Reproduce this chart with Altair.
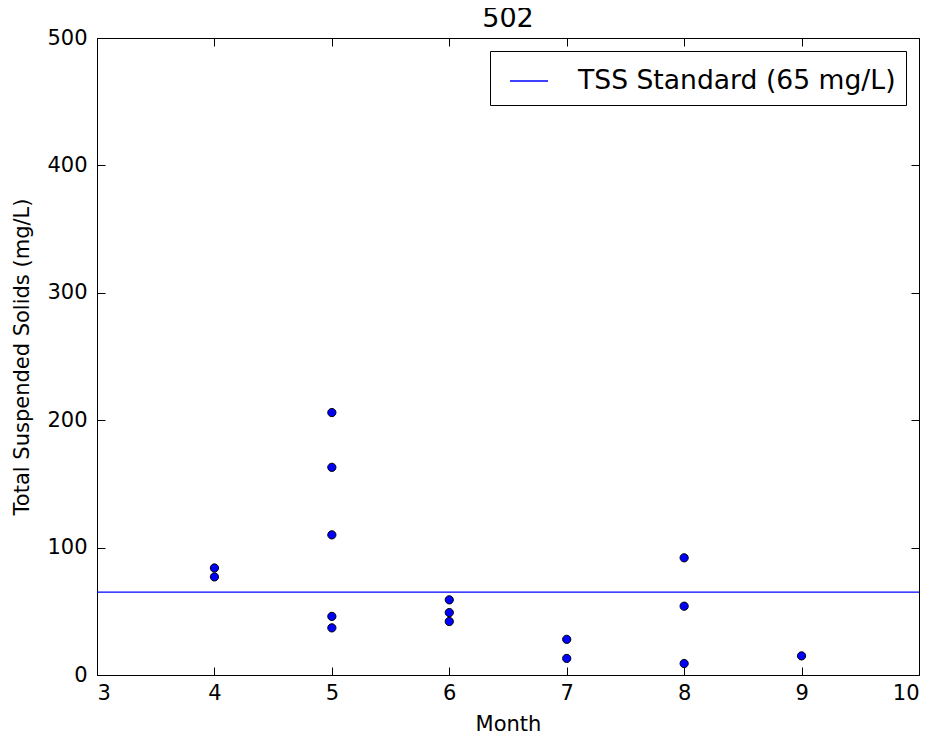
import altair as alt
import pandas as pd

# Data
months = [4, 4, 5, 5, 5, 5, 5, 6, 6, 6, 7, 7, 8, 8, 8, 9]
tss = [84, 77, 206, 163, 110, 46, 37, 59, 49, 42, 28, 13, 92, 54, 9, 15]
standard_label = "TSS Standard (65 mg/L)"
standard_value = 65
x_ticks = [3, 4, 5, 6, 7, 8, 9, 10]
y_ticks = [0, 100, 200, 300, 400, 500]
chart_title = "502"

pts = pd.DataFrame({"Month": months, "TSS": tss})
std = pd.DataFrame({"value": [standard_value], "series": [standard_label]})

W, H = 822, 637
FONT = "DejaVu Sans"
TICK = 8

xscale = alt.Scale(domain=[3, 10], nice=False, zero=False)
yscale = alt.Scale(domain=[0, 500], nice=False)

def tick_axis(orient, offset):
    return alt.Axis(orient=orient, offset=offset, labels=False, title=None,
                    domain=False, grid=False, ticks=True, tickSize=TICK,
                    tickColor="black", tickWidth=1,
                    values=x_ticks if orient in ("top", "bottom") else y_ticks)

points = alt.Chart(pts).mark_circle(
    size=68, color="#0000ff", stroke="black", strokeWidth=1, opacity=1
).encode(
    x=alt.X("Month:Q", scale=xscale,
            axis=alt.Axis(orient="bottom", title="Month", values=x_ticks,
                          ticks=False, domain=False, grid=False,
                          labelPadding=7, titlePadding=10)),
    y=alt.Y("TSS:Q", scale=yscale,
            axis=alt.Axis(orient="left", title="Total Suspended Solids (mg/L)",
                          values=y_ticks, ticks=False, domain=False, grid=False,
                          labelPadding=10, titlePadding=14)),
)

ticks_a = alt.Chart(pts).mark_circle(opacity=0).encode(
    x=alt.X("Month:Q", scale=xscale, axis=tick_axis("top", -H)),
    y=alt.Y("TSS:Q", scale=yscale, axis=tick_axis("right", -W)),
)

ticks_b = alt.Chart(pts).mark_circle(opacity=0).encode(
    x=alt.X("Month:Q", scale=xscale, axis=tick_axis("bottom", -H)),
    y=alt.Y("TSS:Q", scale=yscale, axis=tick_axis("left", -W)),
)

rule = alt.Chart(std).mark_rule(strokeWidth=1.3).encode(
    y=alt.Y("value:Q", scale=yscale, axis=None),
    color=alt.Color("series:N",
                    scale=alt.Scale(domain=[standard_label], range=["#0000ff"]),
                    legend=alt.Legend(title=None, orient="top-right", offset=13,
                                      strokeColor="black", fillColor="white",
                                      padding=10, labelFontSize=26.6, labelFont=FONT,
                                      labelColor="black", labelLimit=600,
                                      symbolType="stroke", symbolSize=1444,
                                      symbolStrokeWidth=1.3, labelOffset=29,
                                      symbolOffset=9, cornerRadius=0)),
)

chart = alt.layer(rule, points, ticks_a, ticks_b).resolve_axis(
    x="independent", y="independent"
).properties(
    width=W, height=H,
    title=alt.TitleParams(chart_title, fontSize=27, font=FONT, fontWeight="normal",
                          color="black", offset=-6),
    autosize=alt.AutoSizeParams(type="none"),
    padding={"left": 89, "top": 30, "right": 5, "bottom": 60},
    background="white",
).configure_view(
    stroke="black", strokeWidth=1
).configure_axis(
    labelFont=FONT, labelFontSize=21, labelColor="black",
    titleFont=FONT, titleFontSize=21, titleColor="black", titleFontWeight="normal",
)

chart.save("out.html", embed_options={"renderer": "svg", "actions": False})
